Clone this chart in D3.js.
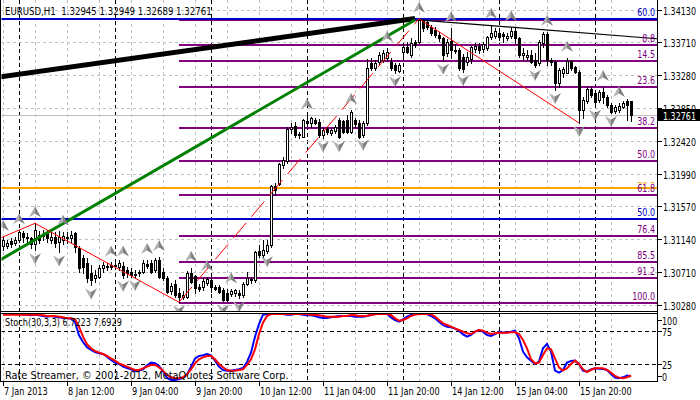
<!DOCTYPE html>
<html><head><meta charset="utf-8">
<script src="https://cdn.jsdelivr.net/npm/d3@7"></script>
<style>
html,body{margin:0;padding:0;background:#fff;}
svg text{font-family:"DejaVu Sans Condensed","DejaVu Sans",sans-serif;font-size:11px;white-space:pre;}
</style></head><body>
<svg id="chart" width="700" height="400"></svg>
<script>
// ---------------- DATA ----------------
const titleText = "EURUSD,H1  1.32945 1.32949 1.32689 1.32761";
const stochTitle = "Stoch(30,3,3) 6.7223 7.6929";
const copyrightText = "Rate Streamer, © 2001-2012, MetaQuotes Software Corp.";

const openP = [
1.3105,1.3106,1.3112,1.3109,1.3113,1.3122,1.3117,1.3116,1.3108,1.3120,
1.3118,1.3124,1.3113,1.3117,1.3111,1.3113,1.3117,1.3116,1.3122,1.3103,
1.3090,1.3083,1.3070,1.3064,1.3065,1.3077,1.3078,1.3081,1.3079,1.3078,
1.3079,1.3074,1.3071,1.3067,1.3070,1.3071,1.3082,1.3083,1.3074,1.3087,
1.3071,1.3064,1.3047,1.3056,1.3044,1.3039,1.3039,1.3070,1.3066,1.3052,
1.3052,1.3057,1.3061,1.3052,1.3052,1.3048,1.3044,1.3043,1.3044,1.3044,
1.3041,1.3056,1.3062,1.3061,1.3099,1.3094,1.3099,1.3107,1.3184,1.3186,
1.3211,1.3216,1.3258,1.3262,1.3252,1.3248,1.3268,1.3266,1.3270,1.3267,
1.3250,1.3258,1.3253,1.3255,1.3270,1.3268,1.3270,1.3254,1.3270,1.3266,
1.3250,1.3266,1.3344,1.3338,1.3345,1.3348,1.3351,1.3345,1.3342,1.3334,
1.3359,1.3365,1.3355,1.3372,1.3372,1.3400,1.3398,1.3391,1.3387,1.3381,
1.3377,1.3357,1.3373,1.3361,1.3361,1.3352,1.3345,1.3350,1.3362,1.3366,
1.3362,1.3364,1.3378,1.3379,1.3383,1.3382,1.3377,1.3379,1.3386,1.3377,
1.3355,1.3352,1.3355,1.3348,1.3344,1.3370,1.3382,1.3348,1.3345,1.3318,
1.3331,1.3331,1.3347,1.3339,1.3332,1.3283,1.3295,1.3310,1.3305,1.3296,
1.3306,1.3300,1.3289,1.3281,1.3283,1.3287,1.3295,1.32945];
const highP = [
1.3117,1.3113,1.3116,1.3117,1.3126,1.3125,1.3122,1.3117,1.3135,1.3125,
1.3126,1.3126,1.3124,1.3124,1.3125,1.3124,1.3124,1.3125,1.3124,1.3105,
1.3094,1.3090,1.3081,1.3074,1.3081,1.3084,1.3083,1.3084,1.3083,1.3087,
1.3084,1.3078,1.3077,1.3074,1.3074,1.3087,1.3087,1.3087,1.3090,1.3091,
1.3077,1.3066,1.3057,1.3061,1.3051,1.3047,1.3073,1.3077,1.3067,1.3056,
1.3064,1.3065,1.3064,1.3054,1.3054,1.3051,1.3049,1.3049,1.3049,1.3048,
1.3058,1.3071,1.3065,1.3099,1.3107,1.3113,1.3113,1.3185,1.3188,1.3214,
1.3221,1.3261,1.3266,1.3267,1.3254,1.3271,1.3276,1.3274,1.3272,1.3271,
1.3259,1.3261,1.3258,1.3263,1.3272,1.3270,1.3276,1.3283,1.3272,1.3270,
1.3268,1.3349,1.3351,1.3348,1.3358,1.3361,1.3364,1.3351,1.3344,1.3344,
1.3370,1.3372,1.3377,1.3374,1.3402,1.3401,1.3400,1.3394,1.3391,1.3385,
1.3378,1.3376,1.3390,1.3369,1.3364,1.3356,1.3358,1.3366,1.3370,1.3370,
1.3372,1.3379,1.3394,1.3390,1.3386,1.3385,1.3383,1.3391,1.3391,1.3378,
1.3364,1.3361,1.3361,1.3357,1.3374,1.3385,1.3385,1.3351,1.3348,1.3338,
1.3339,1.3351,1.3348,1.3340,1.3335,1.3300,1.3313,1.3313,1.3309,1.3309,
1.3313,1.3302,1.3292,1.3289,1.3292,1.3294,1.3297,1.32949];
const lowP = [
1.3100,1.3103,1.3104,1.3107,1.3111,1.3111,1.3109,1.3103,1.3100,1.3109,
1.3113,1.3111,1.3109,1.3104,1.3097,1.3108,1.3109,1.3111,1.3097,1.3071,
1.3070,1.3058,1.3054,1.3058,1.3064,1.3071,1.3074,1.3075,1.3075,1.3074,
1.3064,1.3065,1.3065,1.3065,1.3066,1.3070,1.3077,1.3070,1.3071,1.3064,
1.3061,1.3044,1.3043,1.3039,1.3032,1.3036,1.3037,1.3057,1.3044,1.3047,
1.3048,1.3054,1.3045,1.3048,1.3044,1.3033,1.3034,1.3040,1.3040,1.3037,
1.3039,1.3054,1.3057,1.3058,1.3091,1.3091,1.3096,1.3104,1.3172,1.3185,
1.3207,1.3214,1.3253,1.3248,1.3246,1.3247,1.3263,1.3261,1.3265,1.3248,
1.3246,1.3251,1.3250,1.3253,1.3246,1.3253,1.3253,1.3253,1.3261,1.3246,
1.3248,1.3263,1.3335,1.3335,1.3342,1.3345,1.3348,1.3335,1.3331,1.3332,
1.3348,1.3357,1.3352,1.3365,1.3370,1.3386,1.3389,1.3381,1.3378,1.3373,
1.3347,1.3353,1.3351,1.3357,1.3335,1.3332,1.3342,1.3344,1.3358,1.3357,
1.3358,1.3361,1.3375,1.3377,1.3374,1.3372,1.3374,1.3377,1.3370,1.3352,
1.3348,1.3348,1.3344,1.3339,1.3342,1.3365,1.3342,1.3342,1.3309,1.3313,
1.3326,1.3331,1.3335,1.3331,1.3266,1.3272,1.3292,1.3300,1.3287,1.3293,
1.3292,1.3287,1.3279,1.3279,1.3280,1.3285,1.3270,1.32689];
const closeP = [
1.3113,1.3109,1.3108,1.3113,1.3124,1.3117,1.3116,1.3108,1.3126,1.3113,
1.3121,1.3116,1.3117,1.3109,1.3117,1.3118,1.3116,1.3120,1.3104,1.3077,
1.3078,1.3064,1.3061,1.3067,1.3077,1.3081,1.3079,1.3078,1.3081,1.3083,
1.3067,1.3070,1.3067,1.3069,1.3071,1.3083,1.3079,1.3071,1.3087,1.3065,
1.3064,1.3045,1.3053,1.3041,1.3039,1.3041,1.3070,1.3058,1.3051,1.3049,
1.3060,1.3062,1.3052,1.3049,1.3045,1.3035,1.3035,1.3047,1.3048,1.3041,
1.3056,1.3064,1.3061,1.3097,1.3094,1.3100,1.3107,1.3184,1.3178,1.3212,
1.3218,1.3258,1.3261,1.3250,1.3250,1.3270,1.3266,1.3272,1.3266,1.3250,
1.3257,1.3254,1.3257,1.3261,1.3248,1.3254,1.3254,1.3280,1.3265,1.3248,
1.3266,1.3338,1.3338,1.3344,1.3355,1.3357,1.3358,1.3338,1.3335,1.3342,
1.3365,1.3359,1.3370,1.3368,1.3400,1.3390,1.3391,1.3383,1.3381,1.3377,
1.3355,1.3372,1.3361,1.3360,1.3338,1.3336,1.3352,1.3365,1.3366,1.3361,
1.3369,1.3378,1.3383,1.3386,1.3378,1.3379,1.3379,1.3386,1.3377,1.3355,
1.3357,1.3355,1.3345,1.3342,1.3372,1.3382,1.3348,1.3345,1.3318,1.3335,
1.3336,1.3347,1.3338,1.3332,1.3283,1.3296,1.3310,1.3302,1.3293,1.3306,
1.3300,1.3289,1.3280,1.3287,1.3288,1.3292,1.3290,1.32761];

const stochK = [
100,100,100,100,100,99,99,98,99,98,
97,96,97,96,95,94,94,93,88,68,
58,50,46,43,41,40,36,31,27,25,
21,19,17,14,15,17,23,27,26,22,
14,4,1,1,2,4,9,21,33,37,
38,40,38,30,21,16,15,15,16,17,
19,28,42,66,85,99,100,100,100,100,
100,99,99,100,100,99,98,98,97,95,
94,94,95,96,97,97,97,97,96,96,
96,97,98.5,100,100,100,100,95,91,88.5,
92,96,98.5,100,100,100,100,97,93.5,88.5,
83.5,81,80,78,75,69.5,66,68.5,73.5,76,
73.5,68.5,67,70,73.5,72,72.5,73.5,75,63.5,
43.5,35,30,25,28.5,48.5,55,43.5,15,12,
16,27,29.5,30,25,15,13.5,17,18.5,18,
17.5,16,10,4.5,3.5,5,7.5,6.7223];
const stochD = [
99,99,99,99,99,99,99,99,99,99,
98,97,97,97,96,95,93.5,93.5,92,81,
66,54.5,48.5,44.5,42,40,37,33.5,30,26,
23.5,21,18.5,16,16,18.5,21,23.5,23.5,20,
15,8.5,5,3.5,3.5,5,9.5,17,26,32,
35,37,37,32,25,20,16,15,15,16,
17,23.5,32,47,70,87,97,100,100,100,
100,100,100,100,100,100,100,99,99,98,
97,96,96,96,96,97,97,98.5,98,97,
97,97.5,98.5,99.5,100,100,100,98.5,93.5,90,
91,93.5,97,99,100,100,100,99.5,96,91,
86,83.5,81,78.5,76,73.5,71,70,73.5,76,
75,72,70,71,72,72,72,72.5,72.5,70,
61,48.5,32,26,27,38.5,48.5,47,33.5,20,
15,18.5,25,30,25,17,13,16,18.5,18.5,
18.5,16,12,7,4.5,3.5,5,7.6929];

const fractalUpBars = [0,4,8,15,27,30,36,39,47,51,57,76,87,96,104,112,122,127,136,141,150,154];
const fractalDownBars = [8,14,22,30,33,44,55,59,66,80,84,90,98,110,115,133,138,144,148,152];

const priceTicks = [1.34130,1.33710,1.33280,1.32850,1.32420,1.31990,1.31570,1.31140,1.30710,1.30280];
const timeTickBars = [0,16,32,48,64,80,96,112,128,144];
const timeTickLabels = ["7 Jan 2013","8 Jan 12:00","9 Jan 04:00","9 Jan 20:00","10 Jan 12:00","11 Jan 04:00","11 Jan 20:00","14 Jan 12:00","15 Jan 04:00","15 Jan 20:00"];
const daySeparatorBars = [4,28,52,76,100,124,148];
const stochLevels = [100,75,25,0];
const stochDashedLevels = [75,25];

// Fibonacci (purple) from bar 44 low to bar 104 high
const fibStartBar = 44;
const fibHigh = 1.3402, fibLow = 1.3032;
const fibLevels = [8.8,14.5,23.6,38.2,50.0,61.8,76.4,85.5,91.2,100.0];
const fibTopLevel = 0;
// Second fibonacci tool (full width levels)
const blueLevelPrices = [1.34016,1.31402];
const blueLevelLabels = ["60.0","50.0"];
const orangeLevelPrices = [1.31807];
const orangeLevelLabels = ["38.2"];

// Trend lines [barIndex, price]
const thickBlackLine = [[-0.75,1.33260],[103,1.34022]];
const greenLine = [[-0.75,1.30871],[103,1.34003]];
const thinBlackLine = [[103.75,1.34006],[163.5,1.33759]];
const zigzagLeft = [[-1,1.3115],[8,1.3135],[44,1.3032]];
const zigzagRight = [[104,1.3402],[144,1.3266]];
const dashedRedLine = [[44,1.3032],[104,1.3402]];
const lastClose = 1.32761;

// ---------------- DRAW ----------------
const svg = d3.select("#chart");
const plotL = 1, plotR = 657, mainTop = 0, mainBot = 311, stTop = 313, stBot = 381;
const n = closeP.length;
const x = d3.scaleLinear().domain([0, n - 1]).range([3, 3 + 4 * (n - 1)]);
const y = d3.scaleLinear().domain([1.3028, 1.3413]).range([305.3, 10.3]);
const ys = d3.scaleLinear().domain([0, 100]).range([380.65, 314.0]);
const px = v => Math.round(v) + 0.5;

const defs = svg.append("defs");
defs.append("clipPath").attr("id", "cm").append("rect")
  .attr("x", plotL + 0.5).attr("y", mainTop).attr("width", plotR - plotL - 0.5).attr("height", mainBot - mainTop);
defs.append("clipPath").attr("id", "cs").append("rect")
  .attr("x", plotL + 0.5).attr("y", stTop + 1).attr("width", plotR - plotL - 0.5).attr("height", stBot - stTop - 1);
defs.append("clipPath").attr("id", "corange").append("rect")
  .attr("x", 0).attr("y", 0).attr("width", 700).attr("height", 184);

const gM = svg.append("g").attr("clip-path", "url(#cm)");
const gS = svg.append("g").attr("clip-path", "url(#cs)");

// vertical grid (gray dashed) & day separators (black dashed)
const gridBars = d3.range(0, n, 8);
[[gM, mainTop, mainBot], [gS, stTop, stBot]].forEach(([g, t, b]) => {
  g.selectAll(null).data(gridBars).enter().append("line")
    .attr("x1", d => px(x(d))).attr("x2", d => px(x(d)))
    .attr("y1", t).attr("y2", b)
    .attr("stroke", "#c0c0c0").attr("stroke-dasharray", "3,3").attr("shape-rendering", "crispEdges");
  g.selectAll(null).data(daySeparatorBars).enter().append("line")
    .attr("x1", d => px(x(d))).attr("x2", d => px(x(d)))
    .attr("y1", t).attr("y2", b)
    .attr("stroke", "#000").attr("stroke-dasharray", "4,3").attr("shape-rendering", "crispEdges");
});
// horizontal price grid
gM.selectAll(null).data(priceTicks).enter().append("line")
  .attr("x1", plotL).attr("x2", plotR)
  .attr("y1", d => px(y(d))).attr("y2", d => px(y(d)))
  .attr("stroke", "#c0c0c0").attr("stroke-dasharray", "3,3").attr("shape-rendering", "crispEdges");
// stoch level lines
gS.selectAll(null).data(stochDashedLevels).enter().append("line")
  .attr("x1", plotL).attr("x2", plotR)
  .attr("y1", d => px(ys(d))).attr("y2", d => px(ys(d)))
  .attr("stroke", "#000").attr("stroke-dasharray", "4,3").attr("shape-rendering", "crispEdges");

// fib purple levels (behind candles)
const fibPrice = l => fibHigh - (fibHigh - fibLow) * l / 100;
const allFib = [fibTopLevel].concat(fibLevels);
gM.selectAll(null).data(allFib).enter().append("line")
  .attr("x1", x(fibStartBar)).attr("x2", plotR)
  .attr("y1", d => Math.round(y(fibPrice(d))) + 0.5)
  .attr("y2", d => Math.round(y(fibPrice(d))) + 0.5)
  .attr("stroke", "#800080").attr("stroke-width", 2).attr("shape-rendering", "crispEdges");
// blue & orange levels full width
gM.selectAll(null).data(blueLevelPrices).enter().append("line")
  .attr("x1", plotL).attr("x2", plotR)
  .attr("y1", d => Math.round(y(d)) - 0.5).attr("y2", d => Math.round(y(d)) - 0.5)
  .attr("stroke", "#0000c8").attr("stroke-width", 2).attr("shape-rendering", "crispEdges");
gM.selectAll(null).data(orangeLevelPrices).enter().append("line")
  .attr("x1", plotL).attr("x2", plotR)
  .attr("y1", d => Math.round(y(d))).attr("y2", d => Math.round(y(d)))
  .attr("stroke", "#ffa500").attr("stroke-width", 2).attr("shape-rendering", "crispEdges");

// bid line
gM.append("line").attr("x1", plotL).attr("x2", plotR)
  .attr("y1", px(y(lastClose))).attr("y2", px(y(lastClose)))
  .attr("stroke", "#c0c0c0").attr("shape-rendering", "crispEdges");

// candles
const idx = d3.range(n);
const gc = gM.append("g").attr("shape-rendering", "crispEdges");
gc.selectAll(null).data(idx).enter().append("line")
  .attr("x1", i => Math.round(x(i)) + 0.5).attr("x2", i => Math.round(x(i)) + 0.5)
  .attr("y1", i => Math.round(y(highP[i]))).attr("y2", i => Math.round(y(lowP[i])) + 1)
  .attr("stroke", "#000");
gc.selectAll(null).data(idx).enter().append("rect")
  .attr("x", i => Math.round(x(i)) - 0.5)
  .attr("y", i => Math.round(y(Math.max(openP[i], closeP[i]))) + 0.5)
  .attr("width", 2)
  .attr("height", i => Math.max(0, Math.round(y(Math.min(openP[i], closeP[i]))) - Math.round(y(Math.max(openP[i], closeP[i])))))
  .attr("fill", i => closeP[i] >= openP[i] ? "#fff" : "#000")
  .attr("stroke", "#000");

// trend lines
const lineGen = d3.line().x(d => x(d[0])).y(d => y(d[1]));
gM.append("path").attr("d", lineGen(thickBlackLine)).attr("stroke", "#000").attr("stroke-width", 5).attr("fill", "none");
gM.append("path").attr("d", lineGen(greenLine)).attr("stroke", "#008000").attr("stroke-width", 3).attr("fill", "none");
gM.append("path").attr("d", lineGen(thinBlackLine)).attr("stroke", "#000").attr("stroke-width", 1.2).attr("fill", "none");
gM.append("path").attr("d", lineGen(zigzagLeft)).attr("stroke", "#ff0000").attr("stroke-width", 1).attr("fill", "none");
gM.append("path").attr("d", lineGen(zigzagRight)).attr("stroke", "#ff0000").attr("stroke-width", 1).attr("fill", "none");
gM.append("path").attr("d", lineGen(dashedRedLine)).attr("stroke", "#ff0000").attr("stroke-width", 1)
  .attr("stroke-dasharray", "20,8").attr("fill", "none");

// fractals
const upL = "M0,-6L0,1.5L-6,5Z", upR = "M0,-6L6,5L0,1.5Z";
const dnL = "M0,6L0,-1.5L-6,-5Z", dnR = "M0,6L6,-5L0,-1.5Z";
const fu = gM.selectAll(null).data(fractalUpBars).enter().append("g")
  .attr("transform", i => `translate(${Math.round(x(i))},${y(highP[i]) - 11})`);
fu.append("path").attr("d", upL).attr("fill", "#b0b0b0");
fu.append("path").attr("d", upR).attr("fill", "#808080");
const fd = gM.selectAll(null).data(fractalDownBars).enter().append("g")
  .attr("transform", i => `translate(${Math.round(x(i))},${y(lowP[i]) + 8})`);
fd.append("path").attr("d", dnL).attr("fill", "#b0b0b0");
fd.append("path").attr("d", dnR).attr("fill", "#808080");

// fib labels
gM.selectAll(null).data(fibLevels).enter().append("text").attr("class", "num")
  .attr("x", 655).attr("y", d => Math.round(y(fibPrice(d))) - 2)
  .attr("text-anchor", "end").attr("fill", "#800080").text(d => d.toFixed(1));
gM.append("g").attr("clip-path", "url(#corange)").selectAll(null).data(orangeLevelPrices).enter().append("text").attr("class", "num")
  .attr("x", 655).attr("y", d => Math.round(y(d)) + 2)
  .attr("text-anchor", "end").attr("fill", "#ffa500").text((d, i) => orangeLevelLabels[i]);
gM.selectAll(null).data(blueLevelPrices).enter().append("text").attr("class", "num")
  .attr("x", 655).attr("y", d => Math.round(y(d)) - 3)
  .attr("text-anchor", "end").attr("fill", "#0000c8").text((d, i) => blueLevelLabels[i]);

// stochastic
const sLine = d3.line().x((d, i) => x(i)).y(d => ys(d));
gS.append("path").attr("d", sLine(stochK)).attr("stroke", "#0000ff").attr("stroke-width", 2).attr("fill", "none");
gS.append("path").attr("d", sLine(stochD)).attr("stroke", "#ff0000").attr("stroke-width", 2).attr("fill", "none");

// texts in panels (with target widths of the original)
svg.append("text").attr("x", 5).attr("y", 15).attr("fill", "#000").attr("data-w", 207).text(titleText);
svg.append("text").attr("x", 5).attr("y", 326).attr("fill", "#000").attr("data-w", 117).text(stochTitle);
svg.append("text").attr("x", 5).attr("y", 378.5).attr("fill", "#000").attr("data-w", 284).text(copyrightText);

// frames
const fr = svg.append("g").attr("fill", "none").attr("stroke", "#000").attr("shape-rendering", "crispEdges");
fr.append("line").attr("x1", 0.5).attr("x2", 0.5).attr("y1", 0).attr("y2", stBot);
fr.append("line").attr("x1", plotR + 0.5).attr("x2", plotR + 0.5).attr("y1", 0).attr("y2", stBot + 0.5);
fr.append("line").attr("x1", 0).attr("x2", plotR + 1).attr("y1", mainBot + 0.5).attr("y2", mainBot + 0.5);
fr.append("line").attr("x1", 0).attr("x2", plotR + 1).attr("y1", stTop + 0.5).attr("y2", stTop + 0.5);
fr.append("line").attr("x1", 0).attr("x2", plotR + 1).attr("y1", stBot + 0.5).attr("y2", stBot + 0.5);

// right price axis
const ax = svg.append("g");
ax.selectAll(null).data(priceTicks).enter().append("line")
  .attr("x1", plotR + 1).attr("x2", plotR + 5)
  .attr("y1", d => px(y(d))).attr("y2", d => px(y(d)))
  .attr("stroke", "#000").attr("shape-rendering", "crispEdges");
ax.selectAll(null).data(priceTicks).enter().append("text").attr("class", "num")
  .attr("x", 663).attr("y", d => Math.round(y(d)) + 4.5).attr("fill", "#000")
  .text(d => d.toFixed(5));

// stoch axis
const stLabelY = v => Math.min(Math.max(ys(v), 320), 375.7);
ax.selectAll(null).data(stochLevels).enter().append("line")
  .attr("x1", plotR + 1).attr("x2", plotR + 5)
  .attr("y1", d => px(stLabelY(d))).attr("y2", d => px(stLabelY(d)))
  .attr("stroke", "#000").attr("shape-rendering", "crispEdges");
ax.selectAll(null).data(stochLevels).enter().append("text").attr("class", "num")
  .attr("x", 662).attr("y", d => Math.round(stLabelY(d)) + 4.5).attr("fill", "#000")
  .text(d => d);

// time axis
ax.selectAll(null).data(timeTickBars).enter().append("line")
  .attr("x1", d => px(x(d))).attr("x2", d => px(x(d)))
  .attr("y1", stBot + 1).attr("y2", stBot + 5)
  .attr("stroke", "#000").attr("shape-rendering", "crispEdges");
ax.selectAll(null).data(timeTickBars).enter().append("text").attr("class", "time")
  .attr("x", d => Math.round(x(d)) + 1).attr("y", 394.5).attr("fill", "#000")
  .text((d, i) => timeTickLabels[i]);

// current price box (drawn last, over axis labels)
const yc = Math.round(y(lastClose));
ax.append("rect").attr("x", 658).attr("y", yc - 6).attr("width", 42).attr("height", 12).attr("fill", "#000");
ax.append("text").attr("class", "num").attr("x", 663).attr("y", yc + 4.5).attr("fill", "#fff").text(lastClose.toFixed(5));

// condense text horizontally (via transform) to match the narrow bitmap font of the original
function ratio(str, target) {
  const p = svg.append("text").text(str);
  const r = target / p.node().getComputedTextLength();
  p.remove();
  return r;
}
const kNum = ratio("1.34130", 33);
const kTime = ratio("9 Jan 04:00", 46.5);
svg.selectAll("text").each(function () {
  const sel = d3.select(this);
  const w = this.getComputedTextLength();
  let s;
  if (sel.attr("data-w")) s = +sel.attr("data-w") / w;
  else if (sel.classed("time")) s = kTime;
  else s = kNum;
  const tx = +sel.attr("x"), ty = +sel.attr("y");
  sel.attr("x", 0).attr("y", 0)
     .attr("transform", `translate(${tx},${ty}) scale(${s.toFixed(4)},1)`);
});
</script>
</body></html>
